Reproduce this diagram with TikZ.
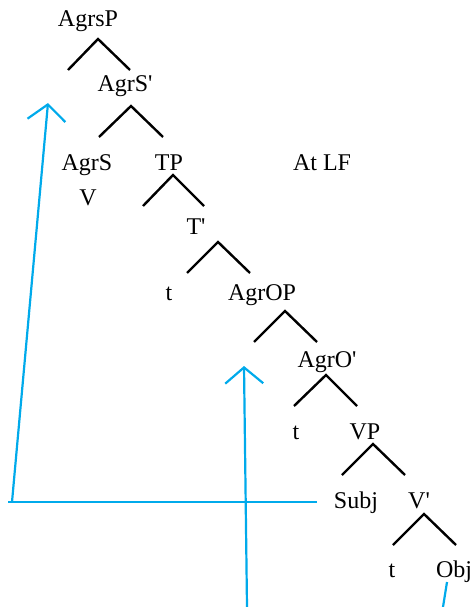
\documentclass[tikz,border=0pt]{standalone}
\usepackage{fontspec}
\setmainfont{Liberation Serif}
\usetikzlibrary{arrows.meta,positioning}
\definecolor{movecol}{RGB}{0,170,235}
\tikzset{cat/.style={anchor=base,inner sep=0pt,font=\fontsize{24}{28}\selectfont},
  branch/.style={draw,line width=2.4pt},
  move/.style={draw=movecol,line width=2.2pt}}

\begin{document}
\begin{tikzpicture}[x=1pt,y=-1pt,>={Straight Barb[length=16pt,width=38pt]}]
\useasboundingbox (0,0) rectangle (475,607);
% labels
\node[cat] (AgrsP) at (88,27) {AgrsP};
\node[cat] (AgrSbar) at (125,92) {AgrS\textquotesingle};
\node[cat] (AgrS) at (87,170) {AgrS};
\node[cat] (TP) at (169,170) {TP};
\node[cat] (AtLF) at (322,170) {At LF};
\node[cat] (V) at (88,205) {V};
\node[cat] (Tbar) at (196,234) {T\textquotesingle};
\node[cat] (tT) at (169,300) {t};
\node[cat] (AgrOP) at (262,300) {AgrOP};
\node[cat] (AgrObar) at (327,367) {AgrO\textquotesingle};
\node[cat] (tO) at (296,439) {t};
\node[cat] (VP) at (365,439) {VP};
\node[cat] (Subj) at (356,508) {Subj};
\node[cat] (Vbar) at (419,508) {V\textquotesingle};
\node[cat] (tV) at (392,577) {t};
\node[cat] (Obj) at (454,577) {Obj};

% branches
\coordinate (a0) at (98,39);  \coordinate (a0l) at (68,70);   \coordinate (a0r) at (130,70);
\coordinate (a1) at (131,106); \coordinate (a1l) at (99,137);  \coordinate (a1r) at (163,137);
\coordinate (a2) at (173,175); \coordinate (a2l) at (143,206); \coordinate (a2r) at (204,206);
\coordinate (a3) at (218,242); \coordinate (a3l) at (187,273); \coordinate (a3r) at (250,273);
\coordinate (a4) at (285,311); \coordinate (a4l) at (254,342); \coordinate (a4r) at (317,342);
\coordinate (a5) at (326,375); \coordinate (a5l) at (294,406); \coordinate (a5r) at (357,406);
\coordinate (a6) at (373,444); \coordinate (a6l) at (342,475); \coordinate (a6r) at (405,475);
\coordinate (a7) at (424,514); \coordinate (a7l) at (393,545); \coordinate (a7r) at (456,545);
\foreach \i in {0,...,7}
  \path[branch] (a\i l) -- (a\i) -- (a\i r);

% movement lines
\coordinate (objfoot) at (447,582); \coordinate (objend) at (443,607);
\coordinate (corner) at (12,502);   \coordinate (hend) at (317,502);
\coordinate (hstart) at (8,502);
\coordinate (subjtip) at (48,103);
\coordinate (midfoot) at (247,607); \coordinate (midtip) at (244,366);
\path[move] (objfoot) -- (objend);
\path[move] (hstart) -- (hend);
\path[move,->] (corner) -- (subjtip);
\path[move,->] (midfoot) -- (midtip);
\end{tikzpicture}
\end{document}
